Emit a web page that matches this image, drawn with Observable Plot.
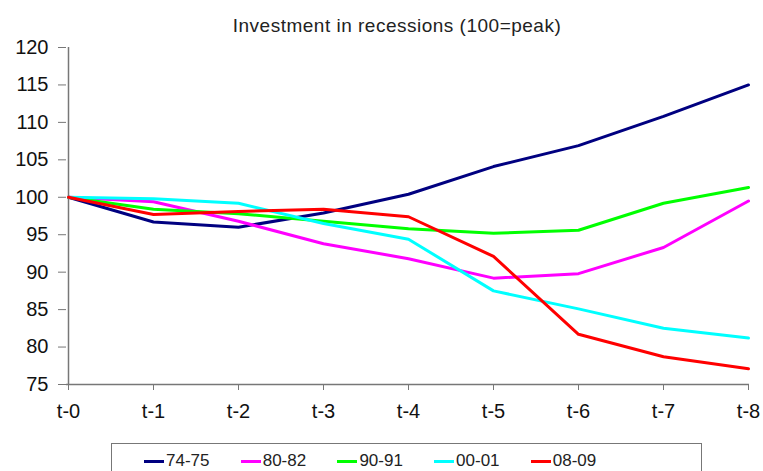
<!DOCTYPE html>
<html>
<head>
<meta charset="utf-8">
<script src="https://cdn.jsdelivr.net/npm/d3@7"></script>
<script src="https://cdn.jsdelivr.net/npm/@observablehq/plot@0.6"></script>
<style>
  html, body { margin: 0; padding: 0; background: #fff; }
  body { width: 763px; height: 471px; overflow: hidden; position: relative; font-family: "Liberation Sans", Arial, sans-serif; }
  #title { position: absolute; left: 0; top: 14px; width: 794px; text-align: center; font-size: 19px; letter-spacing: 0.5px; color: #222; z-index: 2; line-height: 24px; }
  #chart { position: absolute; left: 0; top: 10px; z-index: 1; }
  #legend { position: absolute; left: 111px; top: 443px; width: 591px; height: 40px; border: 1.5px solid #777; box-sizing: border-box; z-index: 2; background: #fff; }
  .item { position: absolute; top: 7px; font-size: 17px; color: #222; display: flex; align-items: center; line-height: 20px; }
  .sw { display: inline-block; width: 20px; height: 3px; margin-right: 2px; }
</style>
</head>
<body>
<div id="title">Investment in recessions (100=peak)</div>
<div id="chart"></div>
<div id="legend"></div>
<script>
const periods = ["t-0", "t-1", "t-2", "t-3", "t-4", "t-5", "t-6", "t-7", "t-8"];
const seriesNames = ["74-75", "80-82", "90-91", "00-01", "08-09"];
const seriesColors = ["#000080", "#ff00ff", "#00ff00", "#00ffff", "#ff0000"];
const s7475 = [100, 96.7, 96.0, 97.9, 100.4, 104.1, 106.9, 110.8, 115.0];
const s8082 = [100, 99.4, 96.8, 93.8, 91.8, 89.2, 89.8, 93.3, 99.5];
const s9091 = [100, 98.4, 97.8, 96.8, 95.8, 95.2, 95.6, 99.2, 101.3];
const s0001 = [100, 99.8, 99.2, 96.5, 94.4, 87.5, 85.1, 82.5, 81.2];
const s0809 = [100, 97.7, 98.1, 98.4, 97.4, 92.1, 81.7, 78.7, 77.1];
const yTicks = [75, 80, 85, 90, 95, 100, 105, 110, 115, 120];

const allSeries = [s7475, s8082, s9091, s0001, s0809];
const data = [];
seriesNames.forEach((name, i) => {
  allSeries[i].forEach((v, j) => data.push({series: name, period: periods[j], value: v}));
});

const chart = Plot.plot({
  width: 763,
  height: 430,
  marginTop: 37,
  marginBottom: 56,
  marginLeft: 66,
  marginRight: 14,
  style: { fontFamily: "'Liberation Sans', Arial, sans-serif", fontSize: "20px", color: "#111", background: "transparent", overflow: "visible" },
  x: { type: "point", domain: periods, padding: 0, label: null },
  y: { domain: [75, 120], label: null },
  color: { domain: seriesNames, range: seriesColors },
  marks: [
    Plot.axisY({ ticks: yTicks, tickSize: 8, tickPadding: 10, stroke: "#777", fill: "#111", label: null, fontSize: 20 }),
    Plot.axisX({ tickSize: 6, tickPadding: 13, stroke: "#777", fill: "#111", label: null, fontSize: 20 }),
    Plot.ruleX([periods[0]], { stroke: "#777", strokeWidth: 1.5, y1: 75, y2: 120 }),
    Plot.ruleY([75], { stroke: "#777", strokeWidth: 1.5 }),
    Plot.line(data, { x: "period", y: "value", z: "series", stroke: "series", strokeWidth: 3, strokeLinejoin: "round" })
  ]
});
document.getElementById("chart").appendChild(chart);

const legend = document.getElementById("legend");
seriesNames.forEach((name, i) => {
  const it = document.createElement("div");
  it.className = "item";
  it.style.left = (32 + i * 96.7) + "px";
  const sw = document.createElement("span");
  sw.className = "sw";
  sw.style.background = chart.scale("color").apply(name);
  it.appendChild(sw);
  it.appendChild(document.createTextNode(name));
  legend.appendChild(it);
});
</script>
</body>
</html>
